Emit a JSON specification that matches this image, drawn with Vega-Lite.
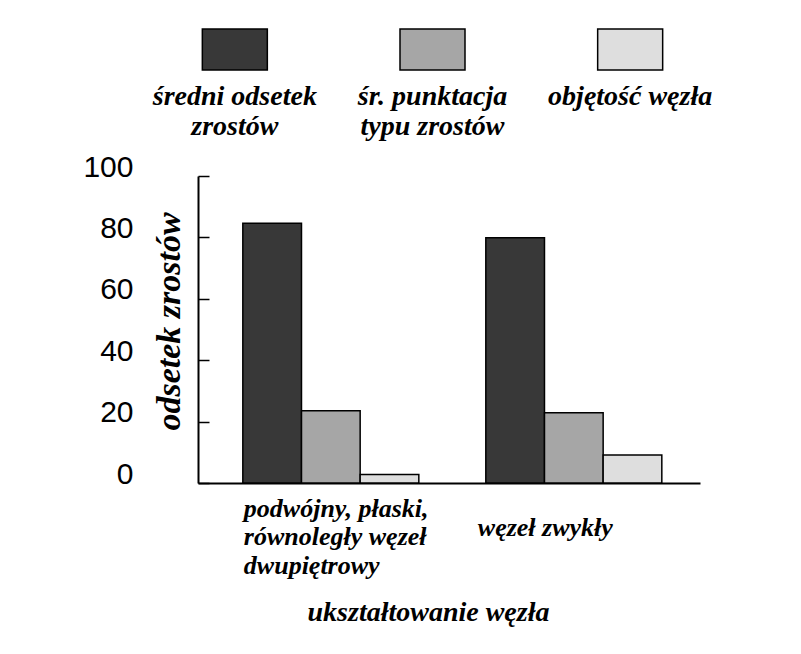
{
  "$schema": "https://vega.github.io/schema/vega-lite/v6.json",
  "background": "white",
  "padding": {"top": 26, "left": 82, "right": 83, "bottom": 29},
  "spacing": 6,
  "datasets": {
    "bars": [
      {"group": "podwójny, płaski,\nrównoległy węzeł\ndwupiętrowy", "series": "średni odsetek zrostów", "value": 84.6},
      {"group": "podwójny, płaski,\nrównoległy węzeł\ndwupiętrowy", "series": "śr. punktacja typu zrostów", "value": 23.5},
      {"group": "podwójny, płaski,\nrównoległy węzeł\ndwupiętrowy", "series": "objętość węzła", "value": 2.8},
      {"group": "węzeł zwykły", "series": "średni odsetek zrostów", "value": 79.9},
      {"group": "węzeł zwykły", "series": "śr. punktacja typu zrostów", "value": 22.9},
      {"group": "węzeł zwykły", "series": "objętość węzła", "value": 9.1}
    ],
    "legend": [
      {"series": "średni odsetek zrostów", "label": "średni odsetek\nzrostów"},
      {"series": "śr. punktacja typu zrostów", "label": "śr. punktacja\ntypu zrostów"},
      {"series": "objętość węzła", "label": "objętość węzła"}
    ]
  },
  "vconcat": [
    {
      "width": 502,
      "height": 120,
      "data": {"name": "legend"},
      "encoding": {
        "x": {
          "field": "series",
          "type": "nominal",
          "sort": null,
          "scale": {"range": [-62, 531], "paddingInner": 0, "paddingOuter": 0},
          "axis": null
        }
      },
      "layer": [
        {
          "mark": {"type": "bar", "width": 65, "stroke": "black", "strokeWidth": 1.5},
          "encoding": {
            "y": {"datum": 3, "type": "quantitative", "scale": {"domain": [0, 120], "reverse": true}, "axis": null},
            "y2": {"datum": 44},
            "color": {
              "field": "series",
              "type": "nominal",
              "scale": {
                "domain": ["średni odsetek zrostów", "śr. punktacja typu zrostów", "objętość węzła"],
                "range": ["#383838", "#a6a6a6", "#dedede"]
              },
              "legend": null
            }
          }
        },
        {
          "mark": {
            "type": "text",
            "align": "center",
            "baseline": "top",
            "font": "Liberation Serif, serif",
            "fontStyle": "italic",
            "fontWeight": "bold",
            "fontSize": 28,
            "lineBreak": "\n",
            "lineHeight": 30,
            "color": "black"
          },
          "encoding": {
            "y": {"datum": 57, "type": "quantitative"},
            "text": {"field": "label"}
          }
        }
      ]
    },
    {
      "width": 502,
      "height": 307,
      "data": {"name": "bars"},
      "mark": {"type": "bar", "stroke": "black", "strokeWidth": 1.5},
      "encoding": {
        "x": {
          "field": "group",
          "type": "nominal",
          "sort": null,
          "scale": {"paddingInner": 0.2757, "paddingOuter": 0.1708, "align": 0.54},
          "axis": {
            "title": "ukształtowanie węzła",
            "titleFont": "Liberation Serif, serif",
            "titleFontStyle": "italic",
            "titleFontWeight": "bold",
            "titleFontSize": 28,
            "titleColor": "black",
            "titleAlign": "center",
            "titleBaseline": "alphabetic",
            "titleX": 230,
            "titleY": 137,
            "ticks": false,
            "domainColor": "black",
            "domainWidth": 2,
            "labelAngle": 0,
            "labelAlign": "left",
            "labelBaseline": "top",
            "labelFont": "Liberation Serif, serif",
            "labelFontStyle": "italic",
            "labelFontWeight": "bold",
            "labelFontSize": 26,
            "labelColor": "black",
            "labelLineHeight": 28.5,
            "labelLimit": 0,
            "labelOverlap": false,
            "labelExpr": "split(datum.label, '\\n')",
            "labelOffset": {"condition": {"test": "datum.value === 'węzeł zwykły'", "value": -96}, "value": -87},
            "labelPadding": {"condition": {"test": "datum.value === 'węzeł zwykły'", "value": 31}, "value": 12}
          }
        },
        "xOffset": {
          "field": "series",
          "type": "nominal",
          "sort": ["średni odsetek zrostów", "śr. punktacja typu zrostów", "objętość węzła"],
          "scale": {"paddingInner": 0, "paddingOuter": 0}
        },
        "y": {
          "field": "value",
          "type": "quantitative",
          "scale": {"domain": [0, 100], "nice": false},
          "axis": {
            "values": [0, 20, 40, 60, 80, 100],
            "title": "odsetek zrostów",
            "titleFont": "Liberation Serif, serif",
            "titleFontStyle": "italic",
            "titleFontWeight": "bold",
            "titleFontSize": 34,
            "titleColor": "black",
            "titleAngle": -90,
            "titleAlign": "center",
            "titleBaseline": "alphabetic",
            "titleX": -19,
            "titleY": 145,
            "grid": false,
            "domainColor": "black",
            "domainWidth": 2,
            "tickColor": "black",
            "tickWidth": 1.5,
            "tickSize": -11,
            "labelFont": "Liberation Sans, Arial, sans-serif",
            "labelFontSize": 30,
            "labelColor": "black",
            "labelAlign": "right",
            "labelBaseline": "alphabetic",
            "labelPadding": 76,
            "labelFlush": false
          }
        },
        "color": {"field": "series", "type": "nominal", "legend": null}
      }
    }
  ],
  "config": {
    "view": {"stroke": null}
  }
}
